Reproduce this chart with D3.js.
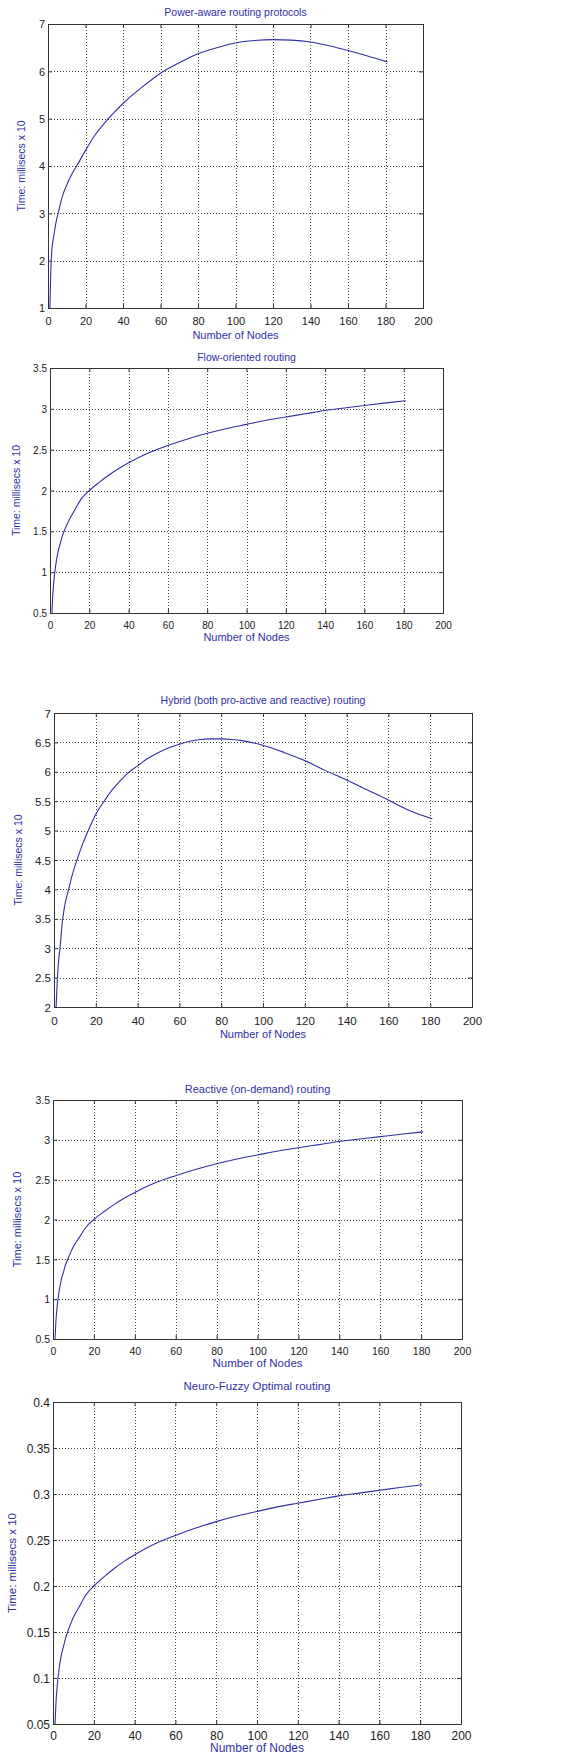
<!DOCTYPE html>
<html>
<head>
  <meta charset="utf-8">
  <script src="https://cdn.jsdelivr.net/npm/d3@7/dist/d3.min.js"></script>
  <style>
    body { margin: 0; background: #fff; }
    svg { display: block; }
  </style>
</head>
<body>
  <script type="text/javascript">
    "use strict";

    // x axis, shared by every panel
    var xTicks = [0, 20, 40, 60, 80, 100, 120, 140, 160, 180, 200];

    // y tick labels per panel
    var yTicksPower = [1, 2, 3, 4, 5, 6, 7];
    var yTicksFlow = [0.5, 1, 1.5, 2, 2.5, 3, 3.5];
    var yTicksHybrid = [2, 2.5, 3, 3.5, 4, 4.5, 5, 5.5, 6, 6.5, 7];
    var yTicksReactive = [0.5, 1, 1.5, 2, 2.5, 3, 3.5];
    var yTicksFuzzy = [0.05, 0.1, 0.15, 0.2, 0.25, 0.3, 0.35, 0.4];

    // series: [nodes, time]
    var powerAware = [[1,1.0],[1.5,1.8],[2,2.2],[3,2.5],[4,2.75],[6,3.1],[8,3.4],[10,3.6],[13,3.85],
      [16,4.05],[20,4.33],[25,4.65],[30,4.9],[35,5.12],[40,5.32],[50,5.66],[60,5.96],[70,6.18],
      [80,6.37],[90,6.5],[100,6.6],[110,6.65],[120,6.67],[130,6.66],[140,6.62],[150,6.54],
      [160,6.44],[170,6.33],[181,6.2]];

    var flowOriented = [[1,0.5],[1.5,0.75],[2,0.9],[3,1.1],[4,1.24],[5,1.33],[6,1.42],[8,1.55],
      [10,1.65],[13,1.78],[16,1.9],[20,2.0],[25,2.1],[30,2.19],[35,2.27],[40,2.34],[50,2.46],
      [60,2.55],[70,2.63],[80,2.7],[90,2.76],[100,2.81],[110,2.86],[120,2.9],[130,2.94],
      [140,2.98],[150,3.01],[160,3.04],[170,3.07],[181,3.1]];

    var hybrid = [[1,2.0],[1.5,2.4],[2,2.7],[3,3.05],[4,3.45],[5,3.7],[7,4.0],[9,4.28],[11,4.5],
      [14,4.8],[17,5.05],[20,5.28],[24,5.5],[28,5.7],[32,5.86],[36,6.0],[40,6.1],[45,6.23],
      [50,6.33],[55,6.41],[60,6.47],[65,6.52],[70,6.55],[75,6.56],[80,6.56],[85,6.55],[90,6.53],
      [100,6.45],[110,6.33],[120,6.19],[130,6.02],[140,5.86],[150,5.69],[160,5.52],[170,5.34],
      [181,5.2]];

    var reactive = [[1,0.5],[1.5,0.75],[2,0.9],[3,1.1],[4,1.24],[5,1.33],[6,1.42],[8,1.55],
      [10,1.66],[13,1.78],[16,1.9],[20,2.0],[25,2.1],[30,2.19],[35,2.27],[40,2.34],[50,2.46],
      [60,2.55],[70,2.63],[80,2.7],[90,2.76],[100,2.81],[110,2.86],[120,2.9],[130,2.94],
      [140,2.98],[150,3.01],[160,3.04],[170,3.07],[181,3.1]];

    var neuroFuzzy = [[1,0.05],[1.5,0.075],[2,0.09],[3,0.11],[4,0.124],[5,0.133],[6,0.142],
      [8,0.155],[10,0.166],[13,0.178],[16,0.19],[20,0.2],[25,0.21],[30,0.219],[35,0.227],
      [40,0.234],[50,0.246],[60,0.255],[70,0.263],[80,0.27],[90,0.276],[100,0.281],[110,0.286],
      [120,0.29],[130,0.294],[140,0.298],[150,0.301],[160,0.304],[170,0.307],[181,0.31]];

    var titles = [
      "Power-aware routing protocols",
      "Flow-oriented routing",
      "Hybrid (both pro-active and reactive) routing",
      "Reactive (on-demand) routing",
      "Neuro-Fuzzy Optimal routing"
    ];
    var xLabel = "Number of Nodes";
    var yLabel = "Time: millisecs x 10";

    // layout of each axes box, in page pixels
    var panels = [
      { title: titles[0], data: powerAware, yTicks: yTicksPower,
        l: 48, r: 423, t: 24, b: 308, titleY: 16, tickY: 321, xlabY: 335, ylabX: 25, fs: 11, tfs: 10.5 },
      { title: titles[1], data: flowOriented, yTicks: yTicksFlow,
        l: 50, r: 443, t: 368, b: 613, titleY: 361, tickY: 625, xlabY: 637, ylabX: 20, fs: 10, tfs: 10.5 },
      { title: titles[2], data: hybrid, yTicks: yTicksHybrid,
        l: 54, r: 472, t: 713, b: 1007, titleY: 704, tickY: 1021, xlabY: 1034, ylabX: 22, fs: 11.5, tfs: 10.5 },
      { title: titles[3], data: reactive, yTicks: yTicksReactive,
        l: 53, r: 462, t: 1100, b: 1339, titleY: 1093, tickY: 1351, xlabY: 1363, ylabX: 21, fs: 10.5, tfs: 11 },
      { title: titles[4], data: neuroFuzzy, yTicks: yTicksFuzzy,
        l: 53, r: 461, t: 1402, b: 1724, titleY: 1390, tickY: 1736, xlabY: 1748, ylabX: 16, fs: 12, tfs: 11.5 }
    ];

    var blue = "#2f2fa6";

    var svg = d3.select("body").append("svg")
      .attr("width", 586)
      .attr("height", 1757)
      .style("font-family", "'Liberation Sans', Arial, sans-serif");

    function fmt(v) { return String(+v.toFixed(2)); }

    panels.forEach(function(p) {
      var yt = p.yTicks;
      var x = d3.scaleLinear().domain([0, 200]).range([p.l, p.r]);
      var y = d3.scaleLinear().domain([yt[0], yt[yt.length - 1]]).range([p.b, p.t]);
      var g = svg.append("g");

      // dotted grid
      g.selectAll(".gx").data(xTicks.slice(1, -1)).enter().append("line")
        .attr("x1", function(d) { return Math.round(x(d)) + 0.5; })
        .attr("x2", function(d) { return Math.round(x(d)) + 0.5; })
        .attr("y1", p.t).attr("y2", p.b)
        .attr("stroke", "#444").attr("stroke-dasharray", "1,2");
      g.selectAll(".gy").data(yt.slice(1, -1)).enter().append("line")
        .attr("y1", function(d) { return Math.round(y(d)) + 0.5; })
        .attr("y2", function(d) { return Math.round(y(d)) + 0.5; })
        .attr("x1", p.l).attr("x2", p.r)
        .attr("stroke", "#444").attr("stroke-dasharray", "1,2");

      // axes with inward ticks
      var bottom = g.append("g").attr("transform", "translate(0," + p.b + ")")
        .call(d3.axisBottom(x).tickValues(xTicks).tickSize(-4).tickPadding(0).tickFormat(fmt));
      var top = g.append("g").attr("transform", "translate(0," + p.t + ")")
        .call(d3.axisTop(x).tickValues(xTicks).tickSize(-4).tickFormat(""));
      var left = g.append("g").attr("transform", "translate(" + p.l + ",0)")
        .call(d3.axisLeft(y).tickValues(yt).tickSize(-4).tickPadding(0).tickFormat(fmt));
      var right = g.append("g").attr("transform", "translate(" + p.r + ",0)")
        .call(d3.axisRight(y).tickValues(yt).tickSize(-4).tickFormat(""));

      [bottom, top, left, right].forEach(function(a) {
        a.select(".domain").attr("stroke", "#333");
        a.selectAll(".tick line").attr("stroke", "#333");
      });
      bottom.selectAll(".tick text")
        .attr("y", p.tickY - p.b).attr("dy", "0.35em")
        .attr("fill", "#222").style("font-size", p.fs + "px");
      left.selectAll(".tick text")
        .attr("x", -3).attr("dy", "0.35em")
        .attr("fill", "#222").style("font-size", p.fs + "px");

      // curve
      g.append("path").datum(p.data)
        .attr("fill", "none")
        .attr("stroke", blue)
        .attr("stroke-width", 1.1)
        .attr("d", d3.line().curve(d3.curveMonotoneX)
          .x(function(d) { return x(d[0]); })
          .y(function(d) { return y(d[1]); }));

      // labels
      var cx = (p.l + p.r) / 2;
      g.append("text").attr("x", cx).attr("y", p.titleY)
        .attr("text-anchor", "middle").attr("fill", blue)
        .style("font-size", p.tfs + "px").text(p.title);
      g.append("text").attr("x", cx).attr("y", p.xlabY)
        .attr("text-anchor", "middle").attr("dy", "0.35em").attr("fill", blue)
        .style("font-size", (p.tfs + 0.5) + "px").text(xLabel);
      g.append("text")
        .attr("transform", "translate(" + p.ylabX + "," + ((p.t + p.b) / 2) + ") rotate(-90)")
        .attr("text-anchor", "middle").attr("fill", blue)
        .style("font-size", p.tfs + "px").text(yLabel);
    });
  </script>
</body>
</html>
